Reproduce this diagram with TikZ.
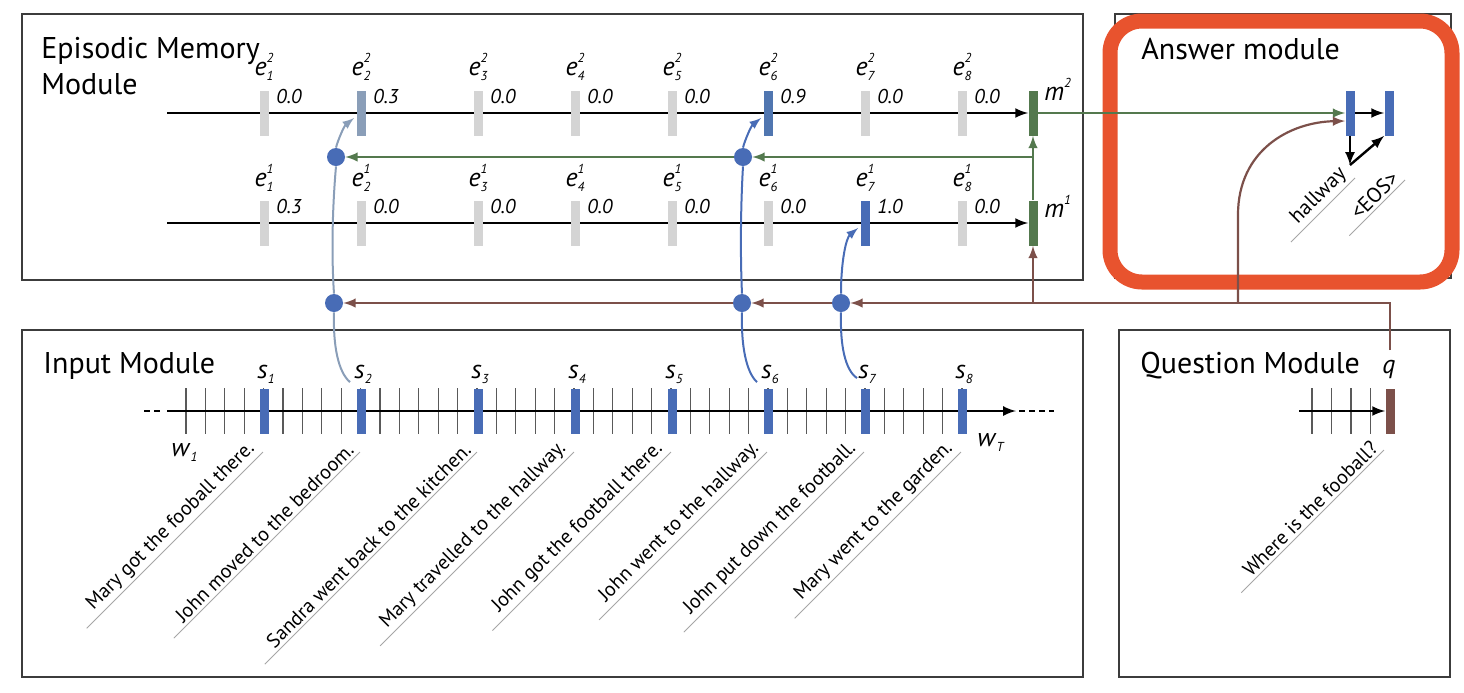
\documentclass[tikz,border=0pt]{standalone}
\usepackage{fontspec}
\setmainfont{PT Sans}
\usepackage{tikz}
\usetikzlibrary{calc}

\definecolor{sblue}{RGB}{72,108,182}
\definecolor{fadeblue}{RGB}{138,158,184}
\definecolor{peakblue}{RGB}{80,118,176}
\definecolor{memgreen}{RGB}{84,121,78}
\definecolor{qbrown}{RGB}{124,80,74}
\definecolor{hilite}{RGB}{232,83,46}
\definecolor{offgray}{RGB}{212,212,212}
\definecolor{boxgray}{RGB}{60,60,60}

\newcommand{\tinyit}[1]{{\fontsize{6.5}{7}\selectfont\itshape #1}}
\newcommand{\supsub}[3]{\textit{#1}\rlap{\raisebox{6.5pt}{\tinyit{#2}}}\raisebox{-2.5pt}{\tinyit{#3}}}

\tikzset{
  bar/.style={rectangle, inner sep=0pt, minimum width=4.5pt, minimum height=22.5pt},
  dot/.style={circle, fill=sblue, inner sep=0pt, minimum size=9pt},
  modbox/.style={draw=boxgray, line width=0.9pt},
  title/.style={anchor=base west, inner sep=0pt, font=\fontsize{15}{18}\selectfont},
  elab/.style={anchor=base, inner sep=0pt, font=\fontsize{13}{15}\selectfont},
  val/.style={anchor=base west, inner sep=0pt, font=\fontsize{10}{12}\selectfont\itshape},
  sent/.style={rotate=45, anchor=south east, inner sep=1.5pt, font=\fontsize{10}{12}\selectfont},
  uline/.style={draw=gray!70, line width=0.4pt},
  tick/.style={draw=black!65, line width=0.6pt},
  seqline/.style={line width=1.2pt},
  greenline/.style={memgreen, line width=1.1pt},
  brownline/.style={qbrown, line width=1.1pt},
  curveline/.style={line width=1pt},
}

\begin{document}
\begin{tikzpicture}[x=0.5pt,y=-0.5pt,>=latex]
\useasboundingbox (0,0) rectangle (1464,692);
% module boxes
\draw[modbox] (22,14) rectangle (1083,280);
\draw[modbox] (22,330) rectangle (1083,677);
\draw[modbox] (1119,330) rectangle (1450,677);
\draw[modbox] (1115,14) rectangle (1451,278);
\draw[hilite, line width=7.5pt, rounded corners=16pt] (1110,21) rectangle (1452,282);
\node[title] (epi) at (41,58) {Episodic Memory};
\node[title] (epi2) at (41,94) {Module};
\node[title] (inp) at (43,373) {Input Module};
\node[title] (que) at (1140,373) {Question Module};
\node[title] (ans) at (1141,59) {Answer module};

% memories
\node[bar, fill=memgreen] (m2) at (1033,113) {};
\node[bar, fill=memgreen] (m1) at (1033,223) {};
\node[elab, anchor=base west] (lm2) at (1044,100) {\supsub{m}{2}{}};
\node[elab, anchor=base west] (lm1) at (1044,217) {\supsub{m}{1}{}};
\coordinate (r2) at (167,113);
\coordinate (r1) at (167,223);
\draw[seqline,->] (r2) -- (m2.west);
\draw[seqline,->] (r1) -- (m1.west);

% episode pass 2
\node[bar, fill=offgray] (e21) at (264,113) {};
\node[bar, fill=fadeblue] (e22) at (361,113) {};
\node[bar, fill=offgray] (e23) at (478,113) {};
\node[bar, fill=offgray] (e24) at (575,113) {};
\node[bar, fill=offgray] (e25) at (672,113) {};
\node[bar, fill=peakblue] (e26) at (768,113) {};
\node[bar, fill=offgray] (e27) at (865,113) {};
\node[bar, fill=offgray] (e28) at (962,113) {};
\node[elab] (le21) at (264,75) {\supsub{e}{2}{1}};
\node[elab] (le22) at (361,75) {\supsub{e}{2}{2}};
\node[elab] (le23) at (478,75) {\supsub{e}{2}{3}};
\node[elab] (le24) at (575,75) {\supsub{e}{2}{4}};
\node[elab] (le25) at (672,75) {\supsub{e}{2}{5}};
\node[elab] (le26) at (768,75) {\supsub{e}{2}{6}};
\node[elab] (le27) at (865,75) {\supsub{e}{2}{7}};
\node[elab] (le28) at (962,75) {\supsub{e}{2}{8}};
\node[val] (v21) at (276,103) {0.0};
\node[val] (v22) at (373,103) {0.3};
\node[val] (v23) at (490,103) {0.0};
\node[val] (v24) at (587,103) {0.0};
\node[val] (v25) at (684,103) {0.0};
\node[val] (v26) at (780,103) {0.9};
\node[val] (v27) at (877,103) {0.0};
\node[val] (v28) at (974,103) {0.0};

% episode pass 1
\node[bar, fill=offgray] (e11) at (264,223) {};
\node[bar, fill=offgray] (e12) at (361,223) {};
\node[bar, fill=offgray] (e13) at (478,223) {};
\node[bar, fill=offgray] (e14) at (575,223) {};
\node[bar, fill=offgray] (e15) at (672,223) {};
\node[bar, fill=offgray] (e16) at (768,223) {};
\node[bar, fill=sblue] (e17) at (865,223) {};
\node[bar, fill=offgray] (e18) at (962,223) {};
\node[elab] (le11) at (264,186) {\supsub{e}{1}{1}};
\node[elab] (le12) at (361,186) {\supsub{e}{1}{2}};
\node[elab] (le13) at (478,186) {\supsub{e}{1}{3}};
\node[elab] (le14) at (575,186) {\supsub{e}{1}{4}};
\node[elab] (le15) at (672,186) {\supsub{e}{1}{5}};
\node[elab] (le16) at (768,186) {\supsub{e}{1}{6}};
\node[elab] (le17) at (865,186) {\supsub{e}{1}{7}};
\node[elab] (le18) at (962,186) {\supsub{e}{1}{8}};
\node[val] (v11) at (276,213) {0.3};
\node[val] (v12) at (373,213) {0.0};
\node[val] (v13) at (490,213) {0.0};
\node[val] (v14) at (587,213) {0.0};
\node[val] (v15) at (684,213) {0.0};
\node[val] (v16) at (780,213) {0.0};
\node[val] (v17) at (877,213) {1.0};
\node[val] (v18) at (974,213) {0.0};

% input sequence
\foreach \k in {0,...,40} \draw[tick] (186+\k*19.4,388) -- (186+\k*19.4,434);
\coordinate (inl) at (167,411);
\coordinate (inr) at (1016,411);
\draw[seqline,->] (inl) -- (inr);
\draw[densely dashed, line width=0.6pt] (144,411) -- (163,411);
\draw[densely dashed, line width=0.6pt] (1019,411) -- (1054,411);
\node[bar, fill=sblue] (s1) at (264,411) {};
\node[bar, fill=sblue] (s2) at (361,411) {};
\node[bar, fill=sblue] (s3) at (478,411) {};
\node[bar, fill=sblue] (s4) at (575,411) {};
\node[bar, fill=sblue] (s5) at (672,411) {};
\node[bar, fill=sblue] (s6) at (768,411) {};
\node[bar, fill=sblue] (s7) at (865,411) {};
\node[bar, fill=sblue] (s8) at (962,411) {};
\node[elab] (ls1) at (266,378) {\supsub{s}{}{1}};
\node[elab] (ls2) at (363,378) {\supsub{s}{}{2}};
\node[elab] (ls3) at (480,378) {\supsub{s}{}{3}};
\node[elab] (ls4) at (577,378) {\supsub{s}{}{4}};
\node[elab] (ls5) at (674,378) {\supsub{s}{}{5}};
\node[elab] (ls6) at (770,378) {\supsub{s}{}{6}};
\node[elab] (ls7) at (867,378) {\supsub{s}{}{7}};
\node[elab] (ls8) at (964,378) {\supsub{s}{}{8}};
\node[elab, anchor=base west] (w1) at (171,456) {\supsub{w}{}{1}};
\node[elab, anchor=base west] (wT) at (977,446) {\supsub{w}{}{T}};
\node[sent] (t1) at (263,452) {Mary got the fooball there.};
\node[sent] (t2) at (360,452) {John moved to the bedroom.};
\node[sent] (t3) at (477,452) {Sandra went back to the kitchen.};
\node[sent] (t4) at (574,452) {Mary travelled to the hallway.};
\node[sent] (t5) at (671,452) {John got the football there.};
\node[sent] (t6) at (767,452) {John went to the hallway.};
\node[sent] (t7) at (864,452) {John put down the football.};
\node[sent] (t8) at (961,452) {Mary went to the garden.};
\draw[uline] (t1.south east) -- ($(t1.south west)!-7pt!(t1.south east)$);
\draw[uline] (t2.south east) -- ($(t2.south west)!-7pt!(t2.south east)$);
\draw[uline] (t3.south east) -- ($(t3.south west)!-7pt!(t3.south east)$);
\draw[uline] (t4.south east) -- ($(t4.south west)!-7pt!(t4.south east)$);
\draw[uline] (t5.south east) -- ($(t5.south west)!-7pt!(t5.south east)$);
\draw[uline] (t6.south east) -- ($(t6.south west)!-7pt!(t6.south east)$);
\draw[uline] (t7.south east) -- ($(t7.south west)!-7pt!(t7.south east)$);
\draw[uline] (t8.south east) -- ($(t8.south west)!-7pt!(t8.south east)$);

% question
\foreach \k in {0,...,3} \draw[tick] (1312+\k*19.5,388) -- (1312+\k*19.5,434);
\coordinate (qin) at (1299,411);
\node[bar, fill=qbrown] (q) at (1390,411) {};
\draw[seqline,->] (qin) -- (q.west);
\node[elab] (lq) at (1389,373) {\textit{q}};
\node[sent] (tq) at (1384,450) {Where is the fooball?};
\draw[uline] (tq.south east) -- ($(tq.south west)!-7pt!(tq.south east)$);

% answer
\node[bar, fill=sblue] (a1) at (1350,113) {};
\node[bar, fill=sblue] (a2) at (1389,113) {};
\coordinate (aout) at (1350,165);
\draw[seqline,->] (a1.east) -- (a2.west);
\draw[seqline,->] (a1.south) -- (aout);
\draw[seqline,->] (aout) -- (a2.south west);
\node[sent, font=\fontsize{10.5}{12}\selectfont] (th) at (1355,178) {hallway};
\node[sent, font=\fontsize{10.5}{12}\selectfont] (teos) at (1405,180) {<EOS>};
\draw[uline] (th.south east) -- ($(th.south west)!-7pt!(th.south east)$);
\draw[uline] (teos.south east) -- ($(teos.south west)!-7pt!(teos.south east)$);

% attention gates
\node[dot] (d22) at (336,157) {};
\node[dot] (d26) at (743,157) {};
\node[dot] (d12) at (334,303) {};
\node[dot] (d16) at (742,303) {};
\node[dot] (d17) at (841,303) {};

% memory updates
\coordinate (gsplit) at (1033,157);
\draw[greenline,->] (m1.north) -- (m2.south);
\draw[greenline,->] (gsplit) -- (d26);
\draw[greenline,->] (d26) -- (d22);
\draw[greenline,->] (m2.east) -- (a1.west);

% question feed
\coordinate (qtop) at (1390,350);
\coordinate (mfork) at (1033,303);
\coordinate (afork) at (1238,303);
\coordinate (abend) at (1238,215);
\draw[brownline,->] (qtop) |- (d17);
\draw[brownline,->] (d17) -- (d16);
\draw[brownline,->] (d16) -- (d12);
\draw[brownline,->] (mfork) -- (m1.south);
\draw[brownline,->] (afork) -- (abend) .. controls (1238,150) and (1290,122) .. ([yshift=-4pt]a1.west);

% facts to episodes
\draw[curveline, fadeblue] ([xshift=-5.5pt,yshift=3pt]s2.north) .. controls (338,372) and (333,345) .. (d12.south);
\draw[curveline, fadeblue] (d12.north) .. controls (331,250) and (333,200) .. (d22.south);
\draw[curveline, fadeblue,->] (d22.north) .. controls (338,140) and (344,126) .. ([xshift=-1pt,yshift=-2.5pt]e22.west);
\draw[curveline, sblue] ([xshift=-5.5pt,yshift=3pt]s6.north) .. controls (746,372) and (741,345) .. (d16.south);
\draw[curveline, sblue] (d16.north) .. controls (740,250) and (741,200) .. (d26.south);
\draw[curveline, sblue,->] (d26.north) .. controls (745,140) and (751,126) .. ([xshift=-1pt,yshift=-2.5pt]e26.west);
\draw[curveline, sblue] ([xshift=-4pt,yshift=5pt]s7.north) .. controls (845,370) and (840,345) .. (d17.south);
\draw[curveline, sblue,->] (d17.north) .. controls (841,262) and (846,238) .. ([xshift=-1pt,yshift=-2.5pt]e17.west);
\end{tikzpicture}
\end{document}
